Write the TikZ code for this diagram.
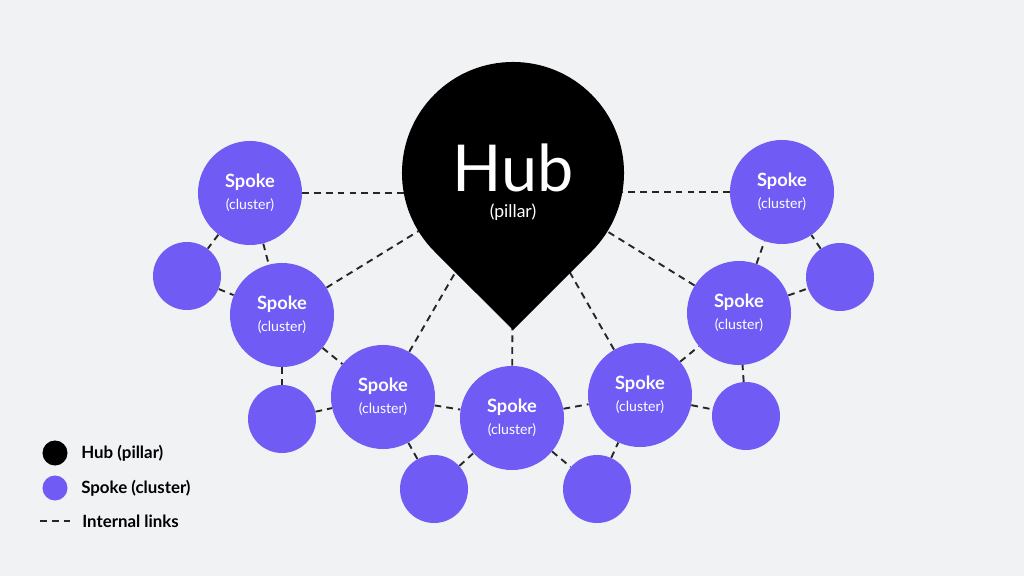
\documentclass[tikz,border=0pt]{standalone}
\usepackage{fontspec}
\setmainfont{Lato}
\usetikzlibrary{backgrounds}

\definecolor{bggray}{RGB}{241,242,244}
\definecolor{spokepurple}{RGB}{112,92,245}

\newcommand{\spokelabel}{{\bfseries\fontsize{13pt}{15pt}\selectfont Spoke}\\[3.5pt]{\fontsize{10pt}{11pt}\selectfont (cluster)}}

\tikzset{
  spoke/.style={circle, fill=spokepurple, minimum size=2.6cm, inner sep=0pt,
                text=white, align=center},
  leaf/.style={circle, fill=spokepurple, minimum size=1.7cm, inner sep=0pt},
  link/.style={dash pattern=on 4.8pt off 3.6pt, line width=1.35pt, black!85},
  keydot/.style={circle, minimum size=0.625cm, inner sep=0pt},
  keytext/.style={anchor=west, inner sep=0pt, font=\bfseries\fontsize{12pt}{14pt}\selectfont}
}

\begin{document}
\begin{tikzpicture}[x=0.025cm, y=-0.025cm]

\node[circle, minimum size=5.55cm, inner sep=0pt, outer sep=0pt] (hub) at (513,173) {};
\coordinate (tip) at (513,330);
\fill[black] (tip) -- (hub.225) arc[start angle=225, end angle=-45, radius=2.775cm] -- cycle;
\node[text=white, inner sep=0pt, font=\fontsize{46pt}{46pt}\selectfont] (hubname) at (513,168) {Hub};
\node[text=white, inner sep=0pt, font=\fontsize{12.5pt}{14pt}\selectfont] (hubsub) at (513,212) {(pillar)};

\node[spoke] (lt) at (250,193) {\spokelabel};
\node[spoke] (l2) at (282,315) {\spokelabel};
\node[spoke] (l3) at (383,397) {\spokelabel};
\node[spoke] (c) at (512,418) {\spokelabel};
\node[spoke] (r3) at (640,395) {\spokelabel};
\node[spoke] (r2) at (739,313) {\spokelabel};
\node[spoke] (rt) at (782,192) {\spokelabel};

\node[leaf] (s1) at (187,276) {};
\node[leaf] (s2) at (282,419) {};
\node[leaf] (s3) at (434,489) {};
\node[leaf] (s4) at (597,489) {};
\node[leaf] (s5) at (746,416) {};
\node[leaf] (s6) at (840,277) {};

\node[keydot, fill=black] (keyhub) at (55,453) {};
\node[keytext] (keyhubtext) at (81,453) {Hub (pillar)};
\node[keydot, fill=spokepurple] (keyspoke) at (55,488) {};
\node[keytext] (keyspoketext) at (81,488) {Spoke (cluster)};
\coordinate (keylinea) at (40,521);
\coordinate (keylineb) at (74,521);
\node[keytext] (keylinktext) at (82,521) {Internal links};

\begin{scope}[on background layer]
\fill[bggray] (0,0) rectangle (1024,576);
\draw[link] (keylinea) -- (keylineb);
\draw[link] (lt) -- (lt -| hub);
\draw[link] (rt) -- (rt -| hub);
\draw[link] (l2) -- (hub);
\draw[link] (l3) -- (hub);
\draw[link] (c) -- (hub);
\draw[link] (r3) -- (hub);
\draw[link] (r2) -- (hub);
\draw[link] (lt) -- (s1);
\draw[link] (lt) -- (l2);
\draw[link] (s1) -- (l2);
\draw[link] (l2) -- (l3);
\draw[link] (l2) -- (s2);
\draw[link] (s2) -- (l3);
\draw[link] (l3) -- (c);
\draw[link] (l3) -- (s3);
\draw[link] (s3) -- (c);
\draw[link] (c) -- (r3);
\draw[link] (c) -- (s4);
\draw[link] (s4) -- (r3);
\draw[link] (r3) -- (r2);
\draw[link] (r3) -- (s5);
\draw[link] (s5) -- (r2);
\draw[link] (r2) -- (rt);
\draw[link] (r2) -- (s6);
\draw[link] (s6) -- (rt);
\end{scope}

\end{tikzpicture}
\end{document}
